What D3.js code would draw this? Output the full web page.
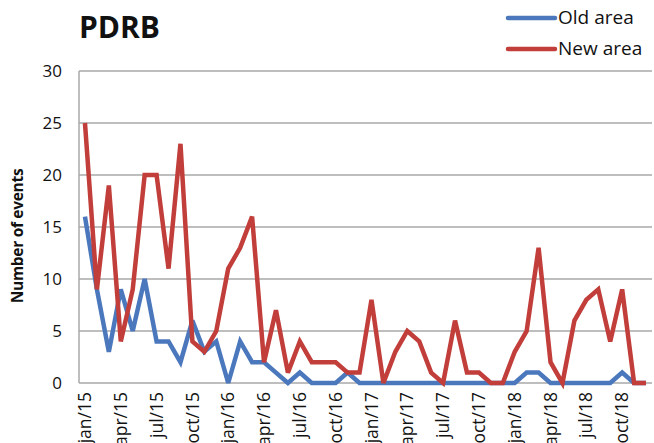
<!DOCTYPE html>
<html>
<head>
<meta charset="utf-8">
<script src="https://cdn.jsdelivr.net/npm/d3@7"></script>
<style>
  body { margin: 0; background: #fff; }
  text { font-family: "Open Sans", Lato, sans-serif; fill: #111; }
</style>
</head>
<body>
<div id="container"></div>
<script>
var width = 654;
var height = 443;
var margin = {left: 79, right: 2, top: 71, bottom: 60};

var monthNames = ["jan", "feb", "mar", "apr", "may", "jun", "jul", "aug", "sep", "oct", "nov", "dec"];
var years = ["15", "16", "17", "18"];
var months = [];
years.forEach(function(y){
    monthNames.forEach(function(m){ months.push(m + "/" + y); });
});
var tickLabels = months.filter(function(d, i){ return i % 3 === 0; });

var oldArea = [16, 9, 3, 9, 5, 10, 4, 4, 2, 6, 3, 4,
               0, 4, 2, 2, 1, 0, 1, 0, 0, 0, 1, 0,
               0, 0, 0, 0, 0, 0, 0, 0, 0, 0, 0, 0,
               0, 1, 1, 0, 0, 0, 0, 0, 0, 1, 0, 0];
var newArea = [25, 9, 19, 4, 9, 20, 20, 11, 23, 4, 3, 5,
               11, 13, 16, 2, 7, 1, 4, 2, 2, 2, 1, 1,
               8, 0, 3, 5, 4, 1, 0, 6, 1, 1, 0, 0,
               3, 5, 13, 2, 0, 6, 8, 9, 4, 9, 0, 0];
var yTicks = [0, 5, 10, 15, 20, 25, 30];

var series = [
    {name: "Old area", values: oldArea, color: "#4b78bd"},
    {name: "New area", values: newArea, color: "#c13e3a"}
];

var svg = d3.select('#container').append('svg').attr('width', width).attr('height', height);

var xScale = d3.scalePoint().domain(months).range([margin.left, width - margin.right]).padding(0.5);
var yScale = d3.scaleLinear().domain([0, 30]).range([383, margin.top]);

// gridlines
svg.append('g').selectAll('line')
    .data(yTicks)
    .enter().append('line')
    .attr('x1', margin.left).attr('x2', width - margin.right)
    .attr('y1', function(d){ return yScale(d); })
    .attr('y2', function(d){ return yScale(d); })
    .attr('stroke', '#a8a8a8')
    .attr('stroke-width', 1.5);

svg.append('line')
    .attr('x1', margin.left).attr('x2', margin.left)
    .attr('y1', yScale(30)).attr('y2', yScale(0))
    .attr('stroke', '#a8a8a8')
    .attr('stroke-width', 1.5);

// y tick labels
svg.append('g').selectAll('text')
    .data(yTicks)
    .enter().append('text')
    .attr('x', 62)
    .attr('y', function(d){ return yScale(d); })
    .attr('dy', '0.35em')
    .attr('text-anchor', 'end')
    .attr('font-size', '17px')
    .text(function(d){ return d; });

// x tick labels
svg.append('g').selectAll('text')
    .data(tickLabels)
    .enter().append('text')
    .attr('transform', function(d){ return 'translate(' + xScale(d) + ',392) rotate(-90)'; })
    .attr('dy', '0.35em')
    .attr('text-anchor', 'end')
    .attr('font-size', '17.5px')
    .text(function(d){ return d; });

// y axis title
svg.append('text')
    .attr('transform', 'translate(18,236) rotate(-90)')
    .attr('dy', '0.35em')
    .attr('text-anchor', 'middle')
    .attr('font-size', '15.5px')
    .attr('font-weight', 'bold')
    .attr('letter-spacing', '-0.3px')
    .text('Number of events');

// lines
var line = d3.line()
    .x(function(d, i){ return xScale(months[i]); })
    .y(function(d){ return yScale(d); });

svg.append('g').selectAll('path')
    .data(series)
    .enter().append('path')
    .attr('d', function(d){ return line(d.values); })
    .attr('fill', 'none')
    .attr('stroke', function(d){ return d.color; })
    .attr('stroke-width', 4.5)
    .attr('stroke-linejoin', 'miter')
    .attr('stroke-miterlimit', 3);

// title
svg.append('text')
    .attr('x', 79).attr('y', 38)
    .attr('font-family', '"DejaVu Sans", sans-serif')
    .attr('font-size', '30px')
    .attr('font-weight', 'bold')
    .text('PDRB');

// legend
var legend = svg.append('g').selectAll('g')
    .data(series)
    .enter().append('g')
    .attr('transform', function(d, i){ return 'translate(508,' + (18 + i * 31) + ')'; });

legend.append('line')
    .attr('x1', 0).attr('x2', 47)
    .attr('stroke', function(d){ return d.color; })
    .attr('stroke-width', 4.5)
    .attr('stroke-linecap', 'round');

legend.append('text')
    .attr('x', 50)
    .attr('y', -1)
    .attr('dy', '0.35em')
    .attr('font-size', '19px')
    .text(function(d){ return d.name; });
</script>
</body>
</html>
